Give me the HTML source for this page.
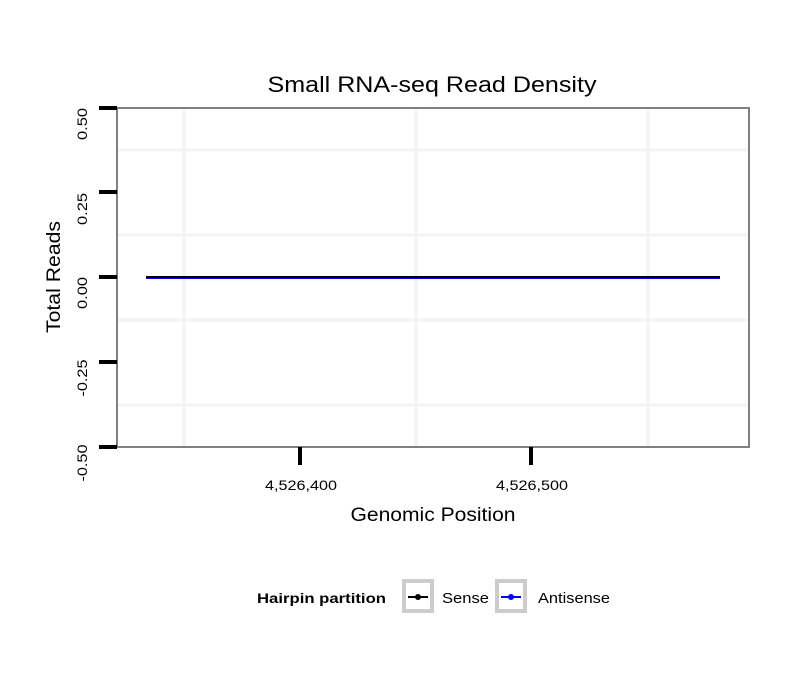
<!DOCTYPE html>
<html><head><style>body{margin:0;background:#fff}</style></head><body>
<svg width="810" height="690" xmlns="http://www.w3.org/2000/svg" font-family="Liberation Sans, sans-serif">
<rect width="810" height="690" fill="#fff"/>
<g stroke="#f3f3f3" stroke-width="3">
<line x1="184" y1="108" x2="184" y2="447"/><line x1="416" y1="108" x2="416" y2="447"/><line x1="648" y1="108" x2="648" y2="447"/>
<line x1="117" y1="150" x2="749" y2="150"/><line x1="117" y1="235" x2="749" y2="235"/><line x1="117" y1="320" x2="749" y2="320"/><line x1="117" y1="405" x2="749" y2="405"/>
</g>
<rect x="117" y="108" width="632" height="339" fill="none" stroke="#808080" stroke-width="2"/>
<g stroke="#000" stroke-width="4">
<line x1="99" y1="108" x2="117" y2="108"/><line x1="99" y1="192" x2="117" y2="192"/><line x1="99" y1="277" x2="117" y2="277"/><line x1="99" y1="362" x2="117" y2="362"/><line x1="99" y1="447" x2="117" y2="447"/>
<line x1="300" y1="447" x2="300" y2="465"/><line x1="531" y1="447" x2="531" y2="465"/>
</g>
<line x1="146" y1="278" x2="720" y2="278" stroke="#0000ff" stroke-width="2"/>
<line x1="146" y1="277" x2="720" y2="277" stroke="#000" stroke-width="2"/>
<g font-size="14" fill="#000" text-anchor="middle">
<text transform="translate(87,124) rotate(-90)" textLength="32" lengthAdjust="spacingAndGlyphs">0.50</text>
<text transform="translate(87,209) rotate(-90)" textLength="32" lengthAdjust="spacingAndGlyphs">0.25</text>
<text transform="translate(87,293) rotate(-90)" textLength="32" lengthAdjust="spacingAndGlyphs">0.00</text>
<text transform="translate(87,378) rotate(-90)" textLength="37" lengthAdjust="spacingAndGlyphs">-0.25</text>
<text transform="translate(87,463) rotate(-90)" textLength="37" lengthAdjust="spacingAndGlyphs">-0.50</text>
<text x="301" y="490" textLength="72" lengthAdjust="spacingAndGlyphs">4,526,400</text>
<text x="532" y="490" textLength="72" lengthAdjust="spacingAndGlyphs">4,526,500</text>
</g>
<text x="432" y="92" font-size="22" text-anchor="middle" textLength="329" lengthAdjust="spacingAndGlyphs">Small RNA-seq Read Density</text>
<text x="433" y="521" font-size="19" text-anchor="middle" textLength="165" lengthAdjust="spacingAndGlyphs">Genomic Position</text>
<text transform="translate(60,277) rotate(-90)" font-size="19" text-anchor="middle" textLength="112" lengthAdjust="spacingAndGlyphs">Total Reads</text>
<text x="257" y="603" font-size="14" font-weight="bold" textLength="129" lengthAdjust="spacingAndGlyphs">Hairpin partition</text>
<rect x="404" y="581" width="28" height="30" fill="#fff" stroke="#ccc" stroke-width="4"/>
<line x1="408" y1="597" x2="428" y2="597" stroke="#000" stroke-width="2"/><circle cx="418" cy="597" r="3" fill="#000"/>
<text x="442" y="603" font-size="15" textLength="47" lengthAdjust="spacingAndGlyphs">Sense</text>
<rect x="497" y="581" width="28" height="30" fill="#fff" stroke="#ccc" stroke-width="4"/>
<line x1="501" y1="597" x2="521" y2="597" stroke="#0000ff" stroke-width="2"/><circle cx="511" cy="597" r="3" fill="#0000ff"/>
<text x="538" y="603" font-size="15" textLength="72" lengthAdjust="spacingAndGlyphs">Antisense</text>
</svg>
</body></html>
